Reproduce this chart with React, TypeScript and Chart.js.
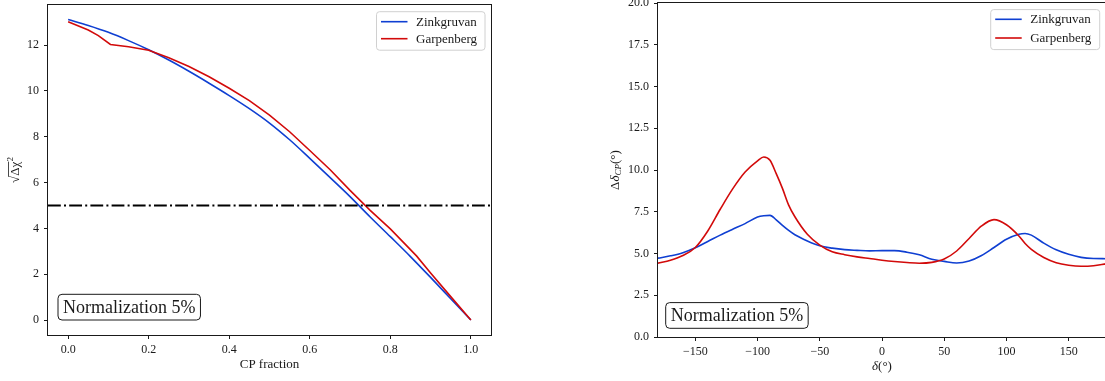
import React, { useEffect, useRef } from "react";
import { Chart, registerables } from "chart.js";
Chart.register(...registerables);

const SERIF = "'Liberation Serif', 'DejaVu Serif', serif";
const BLUE = "#0f3fd2";
const RED = "#d20a0a";
const INK = "#1a1a1a";

// ---------- Left panel data ----------
const ZINK_CP_FRACTION = [0, 0.05, 0.1, 0.15, 0.2, 0.25, 0.3, 0.35, 0.4, 0.45, 0.5, 0.55, 0.6, 0.65, 0.7, 0.75, 0.8, 0.85, 0.9, 0.95, 1.0];
const ZINK_SQRT_DCHI2 = [13.12, 12.86, 12.56, 12.2, 11.8, 11.35, 10.86, 10.34, 9.8, 9.23, 8.6, 7.87, 7.06, 6.23, 5.39, 4.5, 3.64, 2.77, 1.86, 0.93, 0];
const GARP_CP_FRACTION = [0, 0.05, 0.075, 0.105, 0.15, 0.2, 0.25, 0.3, 0.35, 0.4, 0.45, 0.5, 0.55, 0.6, 0.65, 0.7, 0.75, 0.8, 0.865, 0.9, 0.95, 1.0];
const GARP_SQRT_DCHI2 = [13.02, 12.66, 12.42, 12.03, 11.93, 11.78, 11.45, 11.07, 10.62, 10.12, 9.58, 8.95, 8.22, 7.4, 6.57, 5.66, 4.79, 3.98, 2.8, 2.05, 1.02, 0];
const THRESHOLD_X = [-0.05, 1.05];
const THRESHOLD_Y = [5, 5];
const CP_RANGE = [-0.05, 1.05];
const CHI_RANGE = [-0.655, 13.755];
const CP_TICKS = [0, 0.2, 0.4, 0.6, 0.8, 1.0];
const CHI_TICKS = [0, 2, 4, 6, 8, 10, 12];

// ---------- Right panel data ----------
const DELTA_DEG = [-180, -170, -160, -150, -140, -130, -120, -110, -100, -95, -90, -85, -80, -75, -70, -60, -50, -40, -30, -20, -10, 0, 10, 20, 30, 40, 50, 60, 70, 80, 90, 100, 110, 115, 120, 130, 140, 150, 160, 170, 180];
const ZINK_DDCP = [4.72, 4.86, 5.05, 5.35, 5.72, 6.1, 6.45, 6.79, 7.18, 7.26, 7.28, 7.02, 6.68, 6.38, 6.12, 5.75, 5.46, 5.32, 5.23, 5.19, 5.16, 5.17, 5.17, 5.08, 4.92, 4.66, 4.53, 4.43, 4.55, 4.88, 5.36, 5.85, 6.15, 6.2, 6.1, 5.62, 5.22, 4.95, 4.77, 4.7, 4.69];
const GARP_DDCP = [4.42, 4.6, 4.88, 5.36, 6.35, 7.65, 8.87, 9.88, 10.55, 10.78, 10.58, 9.78, 8.9, 7.9, 7.2, 6.15, 5.5, 5.1, 4.93, 4.8, 4.7, 4.6, 4.52, 4.46, 4.42, 4.47, 4.67, 5.15, 5.9, 6.65, 7.03, 6.72, 6.05, 5.6, 5.25, 4.76, 4.45, 4.3, 4.24, 4.27, 4.38];
const DELTA_RANGE = [-180, 180];
const DDCP_RANGE = [0, 20];
const DELTA_TICKS = [-150, -100, -50, 0, 50, 100, 150];
const DELTA_TICK_LABELS = ["\u2212150", "\u2212100", "\u221250", "0", "50", "100", "150"];
const DDCP_TICKS = [0, 2.5, 5, 7.5, 10, 12.5, 15, 17.5, 20];

const SERIES_NAMES = ["Zinkgruvan", "Garpenberg"];
const NOTE_TEXT = "Normalization 5%";

type Part = { text: string; font: string; dy?: number; overline?: boolean };

function drawRich(ctx: CanvasRenderingContext2D, cx: number, cy: number, parts: Part[], rotate: boolean) {
  ctx.save();
  ctx.translate(cx, cy);
  if (rotate) ctx.rotate(-Math.PI / 2);
  ctx.textBaseline = "middle";
  ctx.textAlign = "left";
  ctx.fillStyle = INK;
  const widths = parts.map((p) => {
    ctx.font = p.font;
    return ctx.measureText(p.text).width;
  });
  let x = -widths.reduce((a, b) => a + b, 0) / 2;
  parts.forEach((p, i) => {
    ctx.font = p.font;
    ctx.fillText(p.text, x, p.dy || 0);
    if (p.overline) {
      ctx.strokeStyle = INK;
      ctx.lineWidth = 0.8;
      ctx.beginPath();
      ctx.moveTo(x - 1, -7.5);
      ctx.lineTo(x + widths[i], -7.5);
      ctx.stroke();
    }
    x += widths[i];
  });
  ctx.restore();
}

function makeDecor(cfg: {
  id: string;
  yTitle: Part[];
  xTitle: Part[];
  legend: { dx: number; dy: number; w: number; h: number; l0: number; step: number };
  note: { dx: number; dy: number };
}) {
  return {
    id: cfg.id,
    afterDraw(chart: any) {
      const ctx: CanvasRenderingContext2D = chart.ctx;
      const a = chart.chartArea;
      ctx.save();
      // frame
      ctx.strokeStyle = INK;
      ctx.lineWidth = 1;
      ctx.strokeRect(Math.round(a.left) - 0.5, Math.round(a.top) - 0.5, Math.round(a.right - a.left) + 1, Math.round(a.bottom - a.top) + 1);
      // legend
      const L = cfg.legend;
      const lx = a.right - L.dx - L.w;
      const ly = a.top + L.dy;
      ctx.beginPath();
      ctx.roundRect(lx, ly, L.w, L.h, 3);
      ctx.fillStyle = "rgba(255,255,255,0.8)";
      ctx.fill();
      ctx.strokeStyle = "#d0d0d0";
      ctx.lineWidth = 1;
      ctx.stroke();
      const colors = [BLUE, RED];
      SERIES_NAMES.forEach((name, i) => {
        const yy = ly + L.l0 + i * L.step;
        ctx.strokeStyle = colors[i];
        ctx.lineWidth = 1.6;
        ctx.beginPath();
        ctx.moveTo(lx + 4.5, yy);
        ctx.lineTo(lx + 31, yy);
        ctx.stroke();
        ctx.fillStyle = INK;
        ctx.font = `13px ${SERIF}`;
        ctx.textBaseline = "middle";
        ctx.textAlign = "left";
        ctx.fillText(name, lx + 39.5, yy + 0.5);
      });
      // annotation box
      ctx.font = `18px ${SERIF}`;
      const tw = ctx.measureText(NOTE_TEXT).width;
      const bw = tw + 10;
      const bh = 25.7;
      const bx = a.left + cfg.note.dx;
      const by = a.bottom - cfg.note.dy - bh;
      ctx.beginPath();
      ctx.roundRect(bx, by, bw, bh, 4);
      ctx.fillStyle = "#ffffff";
      ctx.fill();
      ctx.strokeStyle = INK;
      ctx.lineWidth = 1;
      ctx.stroke();
      ctx.fillStyle = INK;
      ctx.textBaseline = "middle";
      ctx.fillText(NOTE_TEXT, bx + 5, by + bh / 2 + 1);
      ctx.restore();
      // axis titles
      drawRich(ctx, 16, (a.top + a.bottom) / 2, cfg.yTitle, true);
      drawRich(ctx, (a.left + a.right) / 2, a.bottom + 30, cfg.xTitle, false);
    },
  };
}

function axis(range: number[], ticks: number[], fmt: (v: number) => string, size: { width?: number; height?: number }, pad: number) {
  return {
    type: "linear",
    min: range[0],
    max: range[1],
    grid: { drawOnChartArea: false, drawTicks: true, tickLength: 4, tickColor: INK, tickWidth: 1 },
    border: { display: false },
    ticks: {
      font: { family: SERIF, size: 12 },
      color: INK,
      padding: pad,
      autoSkip: false,
      maxRotation: 0,
      callback: (v: number) => fmt(v),
    },
    afterBuildTicks: (s: any) => {
      s.ticks = ticks.map((v) => ({ value: v }));
    },
    afterFit: (s: any) => {
      if (size.width !== undefined) s.width = size.width;
      if (size.height !== undefined) s.height = size.height;
      s.paddingTop = 0;
      s.paddingBottom = 0;
      s.paddingLeft = 0;
      s.paddingRight = 0;
    },
  };
}

const zip = (xs: number[], ys: number[]) => xs.map((x, i) => ({ x, y: ys[i] }));

export default function App() {
  const leftRef = useRef<HTMLCanvasElement>(null);
  const rightRef = useRef<HTMLCanvasElement>(null);

  useEffect(() => {
    document.body.style.margin = "0";
    const left = new Chart(leftRef.current as HTMLCanvasElement, {
      type: "line",
      data: {
        datasets: [
          { label: "threshold", data: zip(THRESHOLD_X, THRESHOLD_Y), borderColor: "#000", borderWidth: 2, borderDash: [12.8, 3.2, 2, 3.2], pointRadius: 0, order: 0 },
          { label: SERIES_NAMES[1], data: zip(GARP_CP_FRACTION, GARP_SQRT_DCHI2), borderColor: RED, borderWidth: 1.6, pointRadius: 0, tension: 0, order: 1 },
          { label: SERIES_NAMES[0], data: zip(ZINK_CP_FRACTION, ZINK_SQRT_DCHI2), borderColor: BLUE, borderWidth: 1.6, pointRadius: 0, cubicInterpolationMode: "monotone", order: 2 },
        ],
      } as any,
      options: {
        animation: false,
        responsive: false,
        devicePixelRatio: 1,
        layout: { padding: { top: 15, right: 9, left: 0, bottom: 0 } },
        plugins: { legend: { display: false }, tooltip: { enabled: false } },
        scales: {
          x: axis(CP_RANGE, CP_TICKS, (v) => v.toFixed(1), { height: 46 }, 4),
          y: axis(CHI_RANGE, CHI_TICKS, (v) => String(v), { width: 48 }, 5),
        },
      } as any,
      plugins: [
        makeDecor({
          id: "decorLeft",
          yTitle: [
            { text: "\u221A", font: `13px ${SERIF}` },
            { text: "\u0394\u03C7", font: `13px ${SERIF}`, overline: true },
            { text: "2", font: `9px ${SERIF}`, dy: -5 },
          ],
          xTitle: [{ text: "CP fraction", font: `13px ${SERIF}` }],
          legend: { dx: 6, dy: 6.7, w: 108.5, h: 38.5, l0: 10, step: 17 },
          note: { dx: 10, dy: 15 },
        }),
      ],
    });

    const right = new Chart(rightRef.current as HTMLCanvasElement, {
      type: "line",
      data: {
        datasets: [
          { label: SERIES_NAMES[1], data: zip(DELTA_DEG, GARP_DDCP), borderColor: RED, borderWidth: 1.6, pointRadius: 0, cubicInterpolationMode: "monotone", order: 1 },
          { label: SERIES_NAMES[0], data: zip(DELTA_DEG, ZINK_DDCP), borderColor: BLUE, borderWidth: 1.6, pointRadius: 0, cubicInterpolationMode: "monotone", order: 2 },
        ],
      } as any,
      options: {
        animation: false,
        responsive: false,
        devicePixelRatio: 1,
        layout: { padding: { top: 13, right: 4, left: 0, bottom: 0 } },
        plugins: { legend: { display: false }, tooltip: { enabled: false } },
        scales: {
          x: axis(DELTA_RANGE, DELTA_TICKS, (v) => DELTA_TICK_LABELS[DELTA_TICKS.indexOf(v)] ?? String(v), { height: 44 }, 4),
          y: axis(DDCP_RANGE, DDCP_TICKS, (v) => v.toFixed(1), { width: 58 }, 5),
        },
      } as any,
      plugins: [
        makeDecor({
          id: "decorRight",
          yTitle: [
            { text: "\u0394", font: `13px ${SERIF}` },
            { text: "\u03B4", font: `italic 13px ${SERIF}` },
            { text: "CP", font: `italic 9px ${SERIF}`, dy: 3 },
            { text: "(\u00B0)", font: `13px ${SERIF}` },
          ],
          xTitle: [
            { text: "\u03B4", font: `italic 13px ${SERIF}` },
            { text: "(\u00B0)", font: `13px ${SERIF}` },
          ],
          legend: { dx: 6.3, dy: 6.6, w: 109, h: 40, l0: 9.7, step: 18.7 },
          note: { dx: 7.7, dy: 8.7 },
        }),
      ],
    });

    return () => {
      left.destroy();
      right.destroy();
    };
  }, []);

  return (
    <div style={{ position: "fixed", left: 0, top: 0, width: 1105, height: 381, overflow: "hidden", background: "#fff" }}>
      <canvas ref={leftRef} width={500} height={391} style={{ position: "absolute", left: 0, top: -10, width: 500, height: 391 }} />
      <canvas ref={rightRef} width={510} height={391} style={{ position: "absolute", left: 600, top: -10, width: 510, height: 391 }} />
    </div>
  );
}
